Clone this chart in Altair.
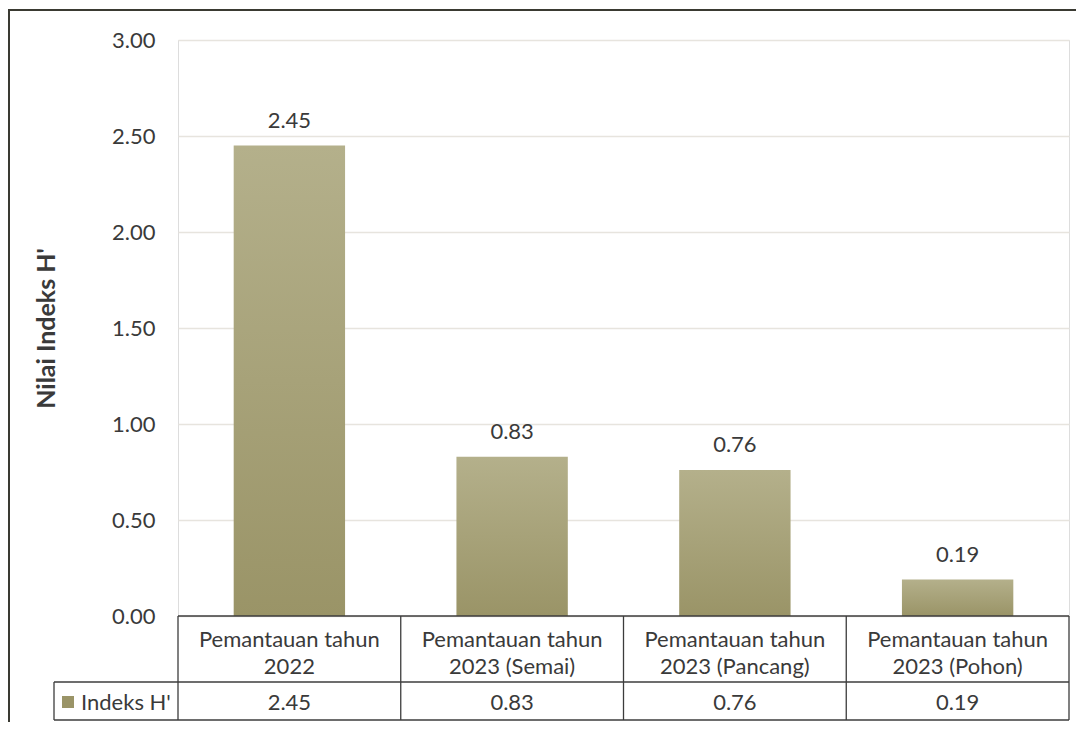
import altair as alt
import pandas as pd

categories = [
    "Pemantauan tahun 2022",
    "Pemantauan tahun 2023 (Semai)",
    "Pemantauan tahun 2023 (Pancang)",
    "Pemantauan tahun 2023 (Pohon)",
]
values = [2.45, 0.83, 0.76, 0.19]
series_name = "Indeks H'"
y_ticks = [0, 0.5, 1.0, 1.5, 2.0, 2.5, 3.0]
y_title = "Nilai Indeks H'"

W, H = 891, 576
FONT = "Lato"
FS = 22
TXT = "#3a3a3a"
LINE = "#3c3c3c"
FRAME = "#3a3a32"
BAR_TOP = "#b4b08b"
BAR_BOT = "#9a9467"

df = pd.DataFrame({"cat": categories, "val": values})
one = pd.DataFrame({"s": [series_name]})

xsc = alt.Scale(domain=categories, paddingInner=0, paddingOuter=0)
ysc = alt.Scale(domain=[0, 3])

grad = alt.Gradient(
    gradient="linear",
    stops=[alt.GradientStop(color=BAR_TOP, offset=0), alt.GradientStop(color=BAR_BOT, offset=1)],
    x1=0, x2=0, y1=0, y2=1,
)

bars = alt.Chart(df).mark_bar(color=grad, width=alt.RelativeBandSize(0.5)).encode(
    x=alt.X("cat:N", scale=xsc, sort=categories, axis=alt.Axis(
        title=None, labelExpr="[substring(datum.label, 0, 16), substring(datum.label, 17)]",
        labelFont=FONT, labelFontSize=FS, labelColor=TXT, labelAngle=0,
        labelBaseline="middle", labelLineHeight=27, labelPadding=23,
        ticks=False, domain=False, grid=False, labelLimit=0)),
    y=alt.Y("val:Q", scale=ysc, axis=alt.Axis(
        title=y_title, titleFont=FONT, titleFontSize=25, titleFontWeight="bold",
        titleColor=TXT, titlePadding=52, values=y_ticks, format=".2f",
        labelFont=FONT, labelFontSize=FS, labelColor=TXT, labelPadding=23,
        ticks=False, domain=False, grid=True, gridColor="#e7e4de", gridWidth=1.5)),
)

labels = alt.Chart(df).mark_text(dy=-25, baseline="middle", font=FONT, fontSize=FS, color=TXT).encode(
    x=alt.X("cat:N", scale=xsc, sort=categories),
    y=alt.Y("val:Q", scale=ysc),
    text=alt.Text("val:Q", format=".2f"),
)

row_vals = alt.Chart(df).mark_text(baseline="middle", font=FONT, fontSize=FS, color=TXT).encode(
    x=alt.X("cat:N", scale=xsc, sort=categories),
    y=alt.value(H + 87),
    text=alt.Text("val:Q", format=".2f"),
)

vlines = alt.Chart(df).mark_rule(color=LINE, strokeWidth=1.3).encode(
    x=alt.X("cat:N", scale=xsc, sort=categories, bandPosition=0),
    y=alt.value(H), y2=alt.value(H + 104),
)

base = alt.Chart(one)
right_line = base.mark_rule(color=LINE, strokeWidth=1.3).encode(
    x=alt.value(W), y=alt.value(H), y2=alt.value(H + 104))
left_line = base.mark_rule(color=LINE, strokeWidth=1.3).encode(
    x=alt.value(-124), y=alt.value(H + 66), y2=alt.value(H + 104))
h_top = base.mark_rule(color=LINE, strokeWidth=1.3).encode(
    x=alt.value(0), x2=alt.value(W), y=alt.value(H))
h_mid = base.mark_rule(color=LINE, strokeWidth=1.3).encode(
    x=alt.value(-124), x2=alt.value(W), y=alt.value(H + 66))
h_bot = base.mark_rule(color=LINE, strokeWidth=1.3).encode(
    x=alt.value(-124), x2=alt.value(W), y=alt.value(H + 104))

frame_top = base.mark_rule(color=FRAME, strokeWidth=2).encode(
    x=alt.value(-170), x2=alt.value(W + 20), y=alt.value(-30))
frame_left = base.mark_rule(color=FRAME, strokeWidth=2).encode(
    x=alt.value(-169), y=alt.value(-31), y2=alt.value(H + 140))

legend_sq = base.mark_square(size=144, color=BAR_BOT, opacity=1).encode(
    x=alt.value(-110), y=alt.value(H + 86))
legend_txt = base.mark_text(align="left", baseline="middle", font=FONT, fontSize=FS, color=TXT).encode(
    x=alt.value(-97), y=alt.value(H + 87), text="s:N")

chart = alt.layer(
    bars, labels, row_vals, vlines, right_line, left_line, h_top, h_mid, h_bot,
    frame_top, frame_left, legend_sq, legend_txt,
).properties(
    width=W, height=H, autosize="none",
    padding={"left": 170, "top": 32, "right": 7, "bottom": 106},
).configure_view(stroke=None).configure(background="white")

chart.save("out.html", embed_options={"renderer": "svg", "actions": False})
